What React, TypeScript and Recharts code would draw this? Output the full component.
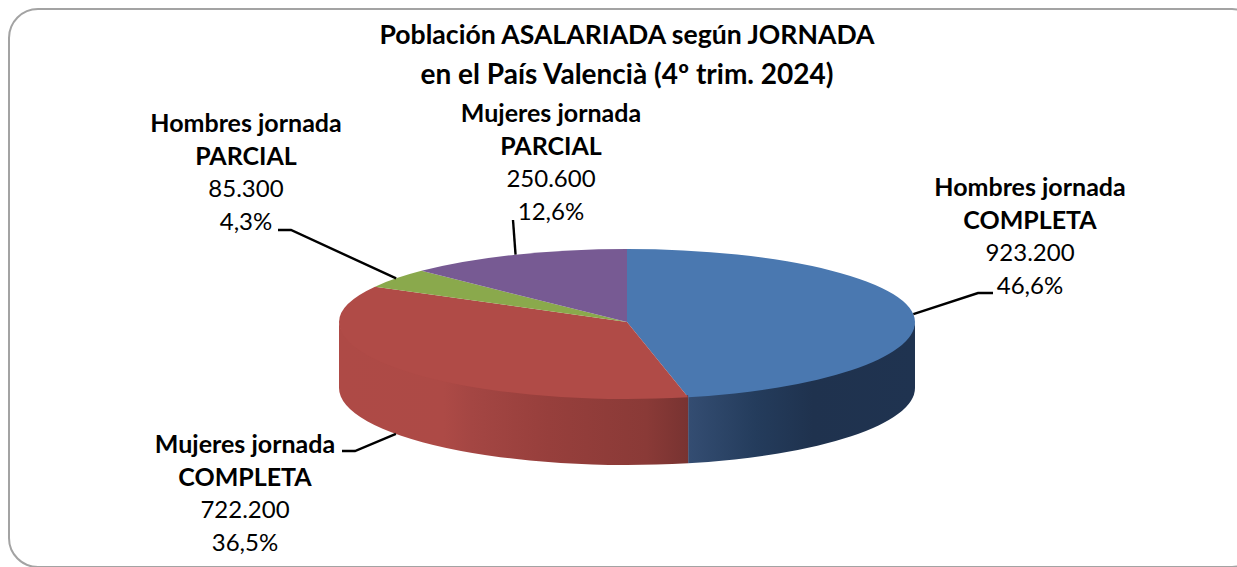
import { PieChart, Pie } from 'recharts'

const CATEGORIES = ['Hombres jornada|COMPLETA', 'Mujeres jornada|COMPLETA', 'Hombres jornada|PARCIAL', 'Mujeres jornada|PARCIAL']
const VALUES = [923200, 722200, 85300, 250600]
const VALUE_LABELS = ['923.200', '722.200', '85.300', '250.600']
const PERCENT_LABELS = ['46,6%', '36,5%', '4,3%', '12,6%']
const COLORS = ['#4a78b0', '#b04b47', '#8aa94c', '#775a93']
const WALLS = ['url(#wallBlue)', 'url(#wallRed)', '#6d8539', '#5c4673']
const TITLE = ['Población ASALARIADA según JORNADA', 'en el País Valencià (4º trim. 2024)']
const TITLE_SIZES = [26.6, 28]

const data = CATEGORIES.map((name, i) => ({ name, value: VALUES[i], fill: COLORS[i] }))

// layout of the tilted pie, the front half is drawn a bit deeper than the back (perspective)
const CX = 627
const CY = 322
const RX = 288
const RY_BACK = 73
const RY_FRONT = 77
const DEPTH = 66
const FONT = 'Lato, Carlito, sans-serif'

// elbow of each leader line, end of the line, and centre x / first line y of the label
const ELBOWS = [[978, 293], [355, 451], [291, 230], [513, 220]]
const LINE_ENDS = [[993, 293], [342, 451], [278, 230], [513, 220]]
const LABEL_X = [1030, 245, 246, 551]
const LABEL_Y = [196, 453, 132, 122]
const LINE_H = 32.6

const rad = (a: number) => (a * Math.PI) / 180
const ryAt = (a: number) => (Math.sin(rad(a)) < 0 ? RY_FRONT : RY_BACK)
const px = (a: number) => CX + RX * Math.cos(rad(a))
const py = (a: number) => CY - ryAt(a) * Math.sin(rad(a))

// clockwise rim arc from angle a to angle b (a > b), split where the ellipse changes
function rim(a: number, b: number) {
  const cuts = [0, -180].filter((c) => c < a && c > b)
  const stops = [...cuts, b]
  let d = ''
  let from = a
  for (const to of stops) {
    const mid = (from + to) / 2
    d += ` A${RX},${ryAt(mid)} 0 0 1 ${px(to)},${py(to)}`
    from = to
  }
  return d
}

function Slice(props: any) {
  const { startAngle, endAngle, fill, name } = props
  const i = CATEGORIES.indexOf(name)
  const top = `M${CX},${CY} L${px(startAngle)},${py(startAngle)}${rim(startAngle, endAngle)} Z`
  // only the part of the rim facing the viewer gets a wall
  const s = Math.min(startAngle, 0)
  const e = Math.max(endAngle, -180)
  let wall = null
  if (s > e) {
    // starts 2px higher so no light seam shows under the top face
    wall = `M${px(s)},${py(s) - 2} A${RX},${RY_FRONT} 0 0 1 ${px(e)},${py(e) - 2} L${px(e)},${py(e) + DEPTH} A${RX},${RY_FRONT} 0 0 0 ${px(s)},${py(s) + DEPTH} Z`
  }
  return (
    <g>
      {wall && <path d={wall} fill={WALLS[i]} />}
      <path d={top} fill={fill} />
    </g>
  )
}

function SliceLabel(props: any) {
  const { midAngle, index } = props
  const x = px(midAngle)
  // the red slice's line attaches to the bottom of its wall
  const y = py(midAngle) + (index === 1 ? DEPTH : 0)
  const [l1, l2] = CATEGORIES[index].split('|')
  const lines = [l1, l2, VALUE_LABELS[index], PERCENT_LABELS[index]]
  return (
    <g>
      <polyline
        points={`${x},${y} ${ELBOWS[index][0]},${ELBOWS[index][1]} ${LINE_ENDS[index][0]},${LINE_ENDS[index][1]}`}
        fill="none"
        stroke="#000"
        strokeWidth={2.4}
      />
      {lines.map((t, k) => (
        <text
          key={k}
          x={LABEL_X[index]}
          y={LABEL_Y[index] + k * LINE_H}
          textAnchor="middle"
          fill="#000"
          fontFamily={FONT}
          fontSize={k < 2 ? 25 : 24}
          fontWeight={k < 2 ? 700 : 400}
        >
          {t}
        </text>
      ))}
    </g>
  )
}

export default function App() {
  return (
    <div style={{ position: 'fixed', left: 0, top: 0, width: 1237, height: 567, overflow: 'hidden', background: '#fff' }}>
      <div style={{ position: 'absolute', left: 8, top: 8, width: 1250, height: 556, border: '2px solid #a3a3a3', borderRadius: 30 }} />
      <div style={{ position: 'absolute', left: 0, top: 0 }}>
        <PieChart width={1237} height={567} margin={{ top: 0, right: 0, bottom: 0, left: 0 }}>
          <defs>
            <linearGradient id="wallBlue" gradientUnits="userSpaceOnUse" x1={688} y1={0} x2={915} y2={0}>
              <stop offset="0" stopColor="#344d72" />
              <stop offset="0.3" stopColor="#243c5c" />
              <stop offset="0.55" stopColor="#1f324e" />
              <stop offset="1" stopColor="#1f3350" />
            </linearGradient>
            <linearGradient id="wallRed" gradientUnits="userSpaceOnUse" x1={339} y1={0} x2={688} y2={0}>
              <stop offset="0" stopColor="#ae4a46" />
              <stop offset="0.3" stopColor="#ad4a46" />
              <stop offset="0.38" stopColor="#a44643" />
              <stop offset="0.6" stopColor="#973f3c" />
              <stop offset="0.88" stopColor="#8a3a37" />
              <stop offset="1" stopColor="#783331" />
            </linearGradient>
          </defs>
          <Pie
            data={data}
            dataKey="value"
            nameKey="name"
            cx={CX}
            cy={CY}
            outerRadius={RX}
            startAngle={90}
            endAngle={-270}
            stroke="none"
            shape={Slice}
            label={SliceLabel}
            labelLine={false}
            isAnimationActive={false}
          />
          {TITLE.map((t, k) => (
            <text key={k} x={627} y={44 + k * 39.5} textAnchor="middle" fill="#000" fontFamily={FONT} fontSize={TITLE_SIZES[k]} fontWeight={700}>
              {t}
            </text>
          ))}
        </PieChart>
      </div>
    </div>
  )
}
